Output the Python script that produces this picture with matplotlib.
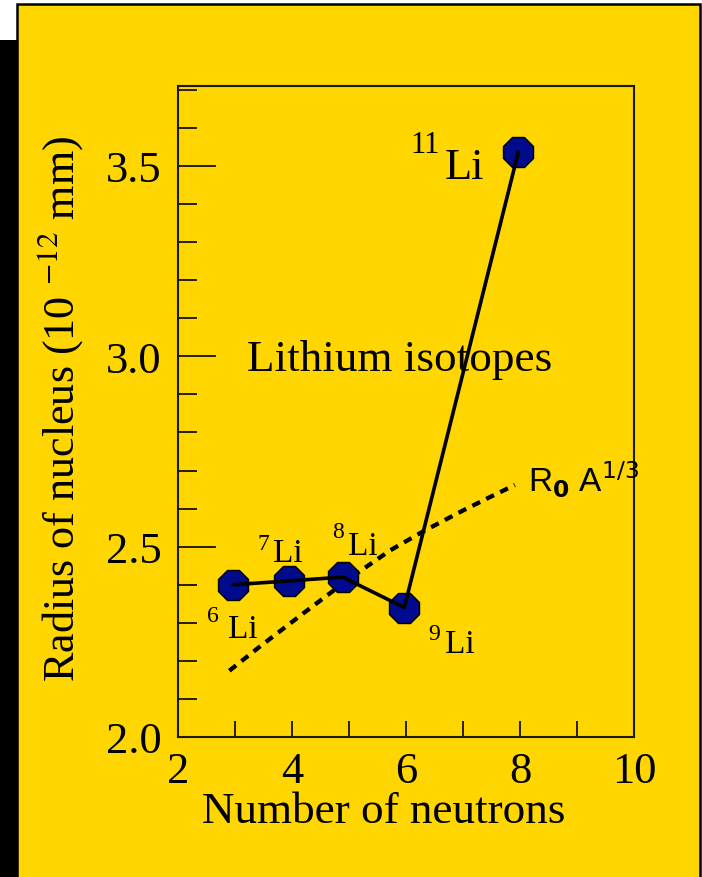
import matplotlib
matplotlib.use("Agg")
import matplotlib.pyplot as plt
from matplotlib.patches import Rectangle

neutrons = [2.97, 3.94, 4.89, 5.97, 7.97]
radius = [2.40, 2.41, 2.42, 2.34, 3.536]
mass_numbers = ["6", "7", "8", "9", "11"]

# R0 A^(1/3) dashed curve
curve_n = [2.90, 3.44, 4.20, 4.67, 5.14, 5.72, 6.30, 7.00, 7.47, 7.91]
curve_r = [2.174, 2.238, 2.325, 2.378, 2.430, 2.490, 2.540, 2.595, 2.630, 2.662]

# isotope label anchors (superscript number, then "Li")
sup_x = [2.51, 3.40, 4.70, 6.39, 6.07]
sup_y = [2.305, 2.495, 2.526, 2.258, 3.537]
li_x = [2.88, 3.67, 4.98, 6.68, 6.68]
li_y = [2.263, 2.463, 2.482, 2.224, 3.468]

xticks = [2, 4, 6, 8, 10]
yticks = [2.0, 2.5, 3.0, 3.5]

YELLOW = "#ffd600"
NAVY = "#000a8c"
SERIF = ["Liberation Serif", "DejaVu Serif"]

plt.rcParams["font.family"] = SERIF

fig = plt.figure(figsize=(7.02, 8.78), dpi=100)
fig.patch.set_facecolor("white")
W, H = 702.0, 878.0

# yellow panel and black left strip
fig.patches.append(Rectangle((17 / W, -0.01), (683 / W), (873 / H) + 0.01,
                             transform=fig.transFigure, facecolor=YELLOW,
                             edgecolor="black", linewidth=1.8, zorder=-10))
fig.patches.append(Rectangle((0, 0), 17 / W, (878 - 41) / H,
                             transform=fig.transFigure, facecolor="black",
                             edgecolor="none", zorder=-10))

ax = fig.add_axes([178 / W, (878 - 738) / H, 456 / W, 651 / H])
ax.patch.set_alpha(0)

ax.plot(curve_n, curve_r, color="black", lw=3.1, linestyle=(0, (2.0, 1.6)),
        zorder=2)
ax.plot(neutrons, radius, linestyle="none", marker="8", ms=24,
        markerfacecolor=NAVY, markeredgecolor="black", markeredgewidth=1.0,
        zorder=3)
ax.plot(neutrons, radius, color="black", lw=2.6, zorder=4)

sup_sizes = [17, 17, 17, 17, 22]
li_sizes = [24, 24, 24, 24, 32]
for i in range(len(mass_numbers)):
    ax.text(sup_x[i], sup_y[i], mass_numbers[i], fontsize=sup_sizes[i],
            ha="left", va="baseline")
    ax.text(li_x[i], li_y[i], "Li", fontsize=li_sizes[i],
            ha="left", va="baseline")

ax.text(5.88, 2.963, "Lithium isotopes", fontsize=32.5, ha="center",
        va="baseline")
ax.text(8.14, 2.645, r"R$_\mathbf{0}$ A$^{1/3}$", fontsize=24,
        family=["Liberation Sans", "DejaVu Sans"], math_fontfamily="dejavusans",
        ha="left", va="baseline")

ax.set_xlim(2, 10)
ax.set_ylim(2.0, 3.71)
ax.set_xticks(xticks)
ax.set_xticks(range(3, 10, 2), minor=True)
ax.set_yticks(yticks)
ax.set_yticks([v / 10 for v in range(21, 38) if v % 5 != 0], minor=True)
ax.set_xticklabels([str(t) for t in xticks])
ax.set_yticklabels(["%.1f" % t for t in yticks])

ax.tick_params(axis="x", which="both", direction="in", length=11.5, width=1.2,
               labelsize=32, pad=10, top=False)
ax.tick_params(axis="y", which="major", direction="in", length=27, width=1.2,
               labelsize=32, pad=12, right=False)
ax.tick_params(axis="y", which="minor", direction="in", length=14, width=1.2,
               right=False)
for side in ax.spines.values():
    side.set_linewidth(1.5)
    side.set_color("#1a1a00")

ax.set_xlabel("Number of neutrons", fontsize=32.5)
ax.xaxis.set_label_coords(0.452, -0.083)
ax.set_ylabel(r"Radius of nucleus (10 $^{-12}$ mm)", fontsize=31.8,
              math_fontfamily="stix")
ax.yaxis.set_label_coords(-0.205, 0.506)

fig.savefig("out.png", dpi=100, facecolor=fig.get_facecolor())
